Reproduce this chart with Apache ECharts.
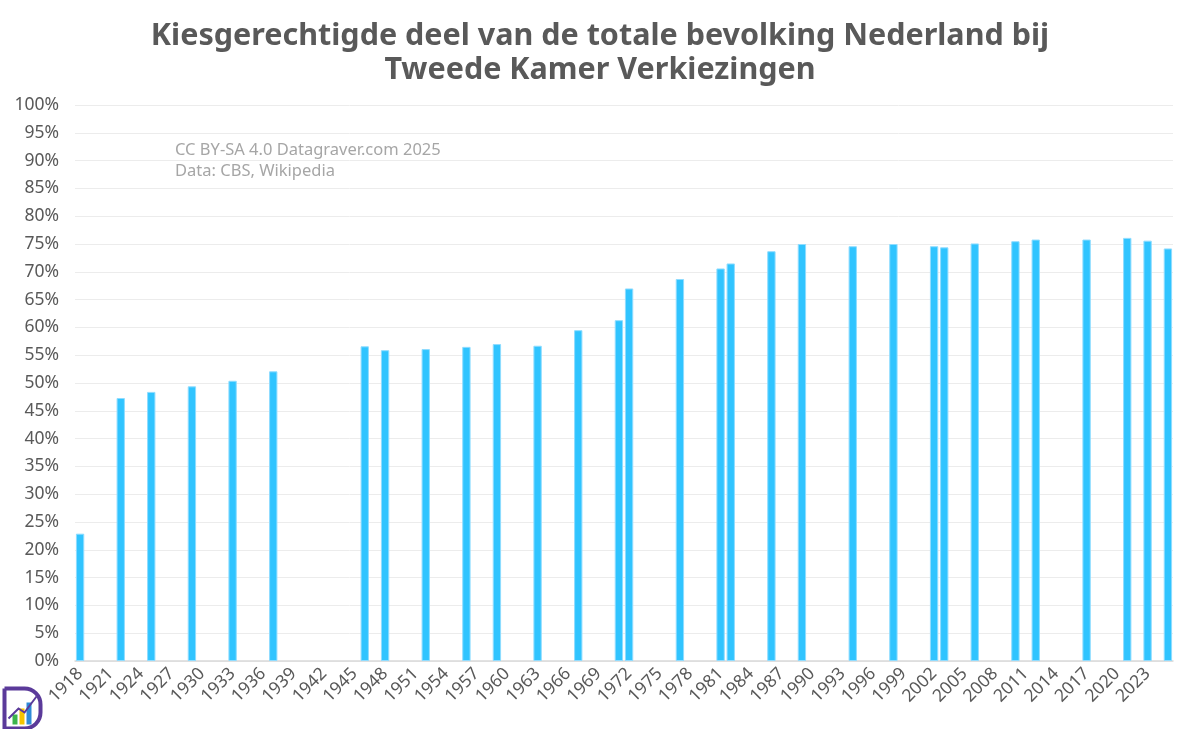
<!DOCTYPE html>
<html>
<head>
<meta charset="utf-8">
<title>Kiesgerechtigden</title>
<script src="https://cdn.jsdelivr.net/npm/echarts@6/dist/echarts.min.js"></script>
<style>
  html, body { margin: 0; padding: 0; background: #fff; }
  #chart { width: 1200px; height: 729px; }
</style>
</head>
<body>
<div id="chart"></div>
<script>
// verkiezingsjaren en aandeel kiesgerechtigden (%)
var electionYears = [1918, 1922, 1925, 1929, 1933, 1937, 1946, 1948, 1952, 1956, 1959, 1963, 1967, 1971, 1972,
                     1977, 1981, 1982, 1986, 1989, 1994, 1998, 2002, 2003, 2006, 2010, 2012, 2017, 2021, 2023, 2025];
var shareValues = [22.9, 47.3, 48.4, 49.4, 50.4, 52.1, 56.6, 55.9, 56.1, 56.5, 57.0, 56.7, 59.5, 61.3, 67.0,
                   68.7, 70.6, 71.5, 73.7, 75.0, 74.6, 75.0, 74.6, 74.4, 75.1, 75.5, 75.8, 75.8, 76.1, 75.6, 74.2];
var firstYear = 1918, lastYear = 2025;

var years = [];
for (var y = firstYear; y <= lastYear; y++) years.push(String(y));

var barData = years.map(function (yr) {
  var i = electionYears.indexOf(Number(yr));
  return i >= 0 ? shareValues[i] : null;
});

var fontFam = '"Noto Sans", "Open Sans", sans-serif';
var chart = echarts.init(document.getElementById('chart'));
var option = {
  backgroundColor: '#fff',
  animation: false,
  title: {
    text: 'Kiesgerechtigde deel van de totale bevolking Nederland bij\nTweede Kamer Verkiezingen',
    left: 'center',
    top: 14,
    textStyle: {
      fontFamily: fontFam,
      fontSize: 30.5,
      fontWeight: 'bold',
      color: '#595959',
      lineHeight: 34
    }
  },
  graphic: [
    {
      type: 'text',
      left: 175,
      top: 140,
      style: {
        text: 'CC BY-SA 4.0 Datagraver.com 2025\nData: CBS, Wikipedia',
        fontFamily: fontFam,
        fontSize: 16.5,
        lineHeight: 21,
        fill: '#a6a6a6'
      }
    },
    {
      type: 'group',
      left: 2,
      top: 686,
      children: [
        { type: 'rect', shape: { x: 0, y: 0, width: 36, height: 40, r: [0, 16, 16, 0] },
          style: { fill: 'none', stroke: '#5b3a9a', lineWidth: 4 } },
        { type: 'rect', shape: { x: 8, y: 26, width: 5, height: 10 }, style: { fill: '#3cb44b' } },
        { type: 'rect', shape: { x: 15, y: 20, width: 5, height: 16 }, style: { fill: '#f5c400' } },
        { type: 'rect', shape: { x: 22, y: 14, width: 5, height: 22 }, style: { fill: '#2e8bd8' } },
        { type: 'polyline', shape: { points: [[4, 30], [14, 20], [20, 24], [32, 8]] },
          style: { stroke: '#5b3a9a', lineWidth: 2, fill: 'none' } }
      ]
    }
  ],
  grid: {
    left: 75,
    right: 27,
    top: 105,
    bottom: 68
  },
  xAxis: {
    type: 'category',
    data: years,
    axisLine: { lineStyle: { color: '#d9d9d9', width: 1.5 } },
    axisTick: { show: false },
    axisLabel: {
      interval: 2,
      rotate: 45,
      margin: 10,
      fontFamily: fontFam,
      fontSize: 17.5,
      color: '#595959'
    }
  },
  yAxis: {
    type: 'value',
    min: 0,
    max: 100,
    interval: 5,
    axisLine: { show: false },
    axisTick: { show: false },
    splitLine: { lineStyle: { color: '#ececec', width: 1 } },
    axisLabel: {
      formatter: '{value}%',
      fontFamily: fontFam,
      fontSize: 17.5,
      color: '#595959',
      margin: 16
    }
  },
  series: [
    {
      name: 'Kiesgerechtigden',
      type: 'bar',
      data: barData,
      barCategoryGap: '18%',
      itemStyle: {
        color: '#30c4ff',
        borderColor: '#8fdcff',
        borderWidth: 1
      }
    }
  ]
};
chart.setOption(option);
</script>
</body>
</html>
